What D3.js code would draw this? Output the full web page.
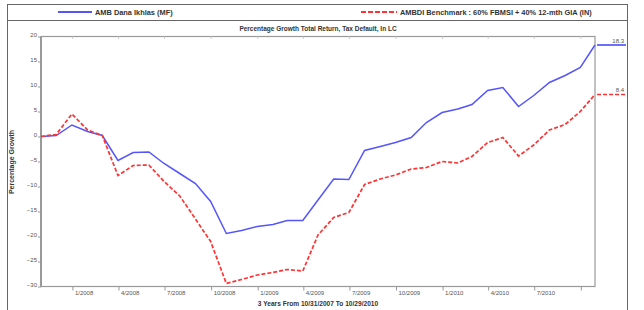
<!DOCTYPE html>
<html>
<head>
<meta charset="utf-8">
<script src="https://cdn.jsdelivr.net/npm/d3@7"></script>
<style>
  body { margin: 0; background: #fff; }
  text { font-family: "Liberation Sans", Arial, sans-serif; }
</style>
</head>
<body>
<div id="canvas"></div>
<script>
// month-end dates of each point
var dates = [
    '2007-10-31', '2007-11-30', '2007-12-31',
    '2008-01-31', '2008-02-29', '2008-03-31', '2008-04-30', '2008-05-31', '2008-06-30',
    '2008-07-31', '2008-08-31', '2008-09-30', '2008-10-31', '2008-11-30', '2008-12-31',
    '2009-01-31', '2009-02-28', '2009-03-31', '2009-04-30', '2009-05-31', '2009-06-30',
    '2009-07-31', '2009-08-31', '2009-09-30', '2009-10-31', '2009-11-30', '2009-12-31',
    '2010-01-31', '2010-02-28', '2010-03-31', '2010-04-30', '2010-05-31', '2010-06-30',
    '2010-07-31', '2010-08-31', '2010-09-30', '2010-10-29'
];

var fund = [0, 0.2, 2.3, 1.0, 0.2, -4.8, -3.2, -3.1, -5.4, -7.4, -9.4, -13.0, -19.4,
    -18.8, -18.0, -17.6, -16.8, -16.8, -12.7, -8.5, -8.6, -2.8, -2.0, -1.2, -0.2,
    2.8, 4.8, 5.5, 6.4, 9.2, 9.8, 6.0, 8.2, 10.8, 12.2, 13.8, 18.3];

var bench = [0, 0.4, 4.5, 1.3, 0.2, -7.8, -5.8, -5.7, -9.0, -11.9, -16.5, -21.0, -29.4,
    -28.6, -27.7, -27.2, -26.6, -26.9, -19.7, -16.2, -15.2, -9.6, -8.5, -7.7, -6.5,
    -6.2, -5.0, -5.3, -4.0, -1.2, -0.2, -3.9, -1.7, 1.3, 2.4, 5.0, 8.4];

var yTicks = [20, 15, 10, 5, 0, -5, -10, -15, -20, -25, -30];
var xTickLabels = ['1/2008', '4/2008', '7/2008', '10/2008', '1/2009', '4/2009',
    '7/2009', '10/2009', '1/2010', '4/2010', '7/2010', ''];

var seriesNames = ['AMB Dana Ikhlas (MF)', 'AMBDI Benchmark : 60% FBMSI + 40% 12-mth GIA (IN)'];
var endLabels = ['18.3', '8.4'];

var blue = '#5555ff';
var red = '#ff3333';

var parse = d3.timeParse('%Y-%m-%d');
var points = dates.map(parse);

var svg = d3.select('#canvas').append('svg')
    .attr('width', 644)
    .attr('height', 310);

// outer frame + legend separator
svg.append('rect')
    .attr('x', 7.5).attr('y', 4.5)
    .attr('width', 620).attr('height', 320)
    .attr('fill', 'none').attr('stroke', '#666');
svg.append('line')
    .attr('x1', 7.5).attr('x2', 627.5)
    .attr('y1', 20.5).attr('y2', 20.5)
    .attr('stroke', '#666');

// legend
var legend = svg.append('g');
legend.append('line')
    .attr('x1', 58).attr('x2', 92).attr('y1', 12).attr('y2', 12)
    .attr('stroke', blue).attr('stroke-width', 2);
legend.append('text')
    .attr('x', 95).attr('y', 14.5)
    .attr('font-size', '7.4px').attr('font-weight', 'bold').attr('fill', '#333')
    .text(seriesNames[0]);
legend.append('line')
    .attr('x1', 361).attr('x2', 397).attr('y1', 12).attr('y2', 12)
    .attr('stroke', red).attr('stroke-width', 2).attr('stroke-dasharray', '5,2');
legend.append('text')
    .attr('x', 400).attr('y', 14.5)
    .attr('font-size', '7.4px').attr('font-weight', 'bold').attr('fill', '#333')
    .text(seriesNames[1]);

// title
svg.append('text')
    .attr('x', 318).attr('y', 30.5)
    .attr('text-anchor', 'middle')
    .attr('font-size', '6.5px').attr('font-weight', 'bold').attr('fill', '#333')
    .text('Percentage Growth Total Return, Tax Default, In LC');

var x = d3.scaleTime()
    .domain([points[0], points[points.length - 1]])
    .range([41, 595]);

var y = d3.scaleLinear()
    .domain([-30, 20])
    .range([286.5, 36.5]);

// plot frame
var plot = svg.append('g');
plot.append('rect')
    .attr('x', 41).attr('y', 36.5)
    .attr('width', 554).attr('height', 250)
    .attr('fill', 'none').attr('stroke', '#999').attr('stroke-width', 1.2);
plot.append('line')
    .attr('x1', 41).attr('x2', 41).attr('y1', 36.5).attr('y2', 286.5)
    .attr('stroke', '#999').attr('stroke-width', 2);

// y axis
var yAxis = d3.axisLeft(y)
    .tickValues(yTicks)
    .tickSize(3)
    .tickPadding(1)
    .tickFormat(d3.format('d'));
var gy = svg.append('g')
    .attr('transform', 'translate(41,0)')
    .call(yAxis);
gy.select('.domain').remove();
gy.selectAll('line').attr('stroke', '#999');
gy.selectAll('text')
    .attr('font-size', '6px').attr('fill', '#555')
    .attr('dy', '-0.05em');

// x axis: quarterly ticks
var qTicks = x.ticks(d3.timeMonth.every(3));
var xAxis = d3.axisBottom(x)
    .tickValues(qTicks)
    .tickSize(4)
    .tickFormat(function(d, i) { return xTickLabels[i]; });
var gx = svg.append('g')
    .attr('transform', 'translate(0,286.5)')
    .call(xAxis);
gx.select('.domain').remove();
gx.selectAll('line').attr('stroke', '#999');
gx.selectAll('text')
    .attr('font-size', '6px').attr('fill', '#555')
    .attr('text-anchor', 'start')
    .attr('x', 2).attr('y', 4).attr('dy', '0.71em');

// top ticks
svg.append('g').selectAll('line')
    .data(qTicks)
    .enter()
    .append('line')
    .attr('x1', function(d) { return x(d); })
    .attr('x2', function(d) { return x(d); })
    .attr('y1', 36.5).attr('y2', 39)
    .attr('stroke', '#ccc');

// axis titles
svg.append('text')
    .attr('transform', 'translate(14,162) rotate(-90)')
    .attr('text-anchor', 'middle')
    .attr('font-size', '7px').attr('font-weight', 'bold').attr('fill', '#333')
    .text('Percentage Growth');
svg.append('text')
    .attr('x', 318).attr('y', 306)
    .attr('text-anchor', 'middle')
    .attr('font-size', '6.6px').attr('font-weight', 'bold').attr('fill', '#333')
    .text('3 Years From 10/31/2007 To 10/29/2010');

// lines
var line = d3.line()
    .x(function(d, i) { return x(points[i]); })
    .y(function(d) { return y(d); });

svg.append('path')
    .datum(fund)
    .attr('d', line)
    .attr('fill', 'none')
    .attr('stroke', blue)
    .attr('stroke-width', 1.5);

svg.append('path')
    .datum(bench)
    .attr('d', line)
    .attr('fill', 'none')
    .attr('stroke', red)
    .attr('stroke-width', 1.7)
    .attr('stroke-dasharray', '4,2');

// end-value markers to the right of the plot
var ends = [
    { v: fund[fund.length - 1], c: blue, dash: null, label: endLabels[0] },
    { v: bench[bench.length - 1], c: red, dash: '4,2', label: endLabels[1] }
];
var endG = svg.selectAll('.end')
    .data(ends)
    .enter()
    .append('g')
    .attr('class', 'end');
endG.append('line')
    .attr('x1', 597).attr('x2', 626)
    .attr('y1', function(d) { return y(d.v); })
    .attr('y2', function(d) { return y(d.v); })
    .attr('stroke', function(d) { return d.c; })
    .attr('stroke-width', 1.7)
    .attr('stroke-dasharray', function(d) { return d.dash; });
endG.append('text')
    .attr('x', 624)
    .attr('y', function(d) { return y(d.v) - 2.5; })
    .attr('text-anchor', 'end')
    .attr('font-size', '6px').attr('fill', '#555')
    .text(function(d) { return d.label; });
</script>
</body>
</html>
